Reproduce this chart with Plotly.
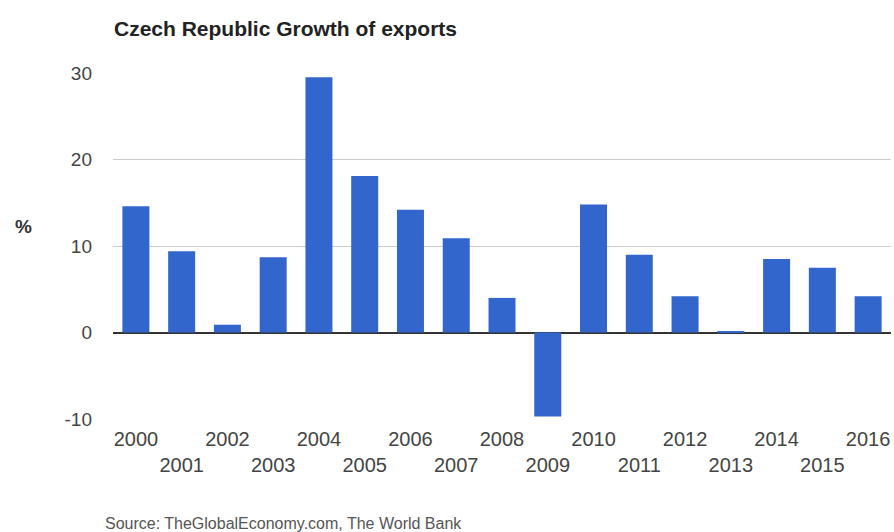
import plotly.graph_objects as go

years = [str(y) for y in range(2000, 2017)]
growth = [14.6, 9.4, 0.9, 8.7, 29.5, 18.1, 14.2, 10.9, 4.0, -9.7,
          14.8, 9.0, 4.2, 0.1, 8.5, 7.5, 4.2]
tick_labels = [y if i % 2 == 0 else "<br>" + y for i, y in enumerate(years)]
y_ticks = [-10, 0, 10, 20, 30]
y_tick_labels = ["-10", "0", "10", "20", "30"]

W, H = 894, 532
L, R, T, B = 113, 3, 73, 113
pw, ph = W - L - R, H - T - B

def px_x(x):
    return (x - L) / pw

def px_y(y):
    return (H - B - y) / ph

fig = go.Figure(go.Bar(x=years, y=growth, marker=dict(color="#3366cc", line=dict(width=0)),
                       hoverinfo="x+y"))

fig.update_layout(
    width=W, height=H,
    margin=dict(l=L, r=R, t=T, b=B, autoexpand=False),
    paper_bgcolor="white", plot_bgcolor="white",
    bargap=0.41, showlegend=False,
    font=dict(family="Liberation Sans, Arial, sans-serif", color="#444444"),
)
fig.update_xaxes(
    type="category", tickmode="array", tickvals=years, ticktext=tick_labels,
    tickangle=0, tickfont=dict(size=20, color="#444444"), showgrid=False, ticks="",
    showline=False, zeroline=False, ticklabelstandoff=6,
)
fig.update_yaxes(
    range=[-10, 30], tickmode="array", tickvals=y_ticks, ticktext=y_tick_labels,
    tickfont=dict(size=19, color="#444444"), showgrid=True, gridcolor="#cccccc",
    gridwidth=1, zeroline=True, zerolinecolor="#333333", zerolinewidth=2,
    ticks="", showline=False, ticklabelstandoff=20,
)

fig.add_annotation(text="<b>Czech Republic Growth of exports</b>", xref="paper", yref="paper",
                   x=px_x(112), y=px_y(28), xanchor="left", yanchor="middle", showarrow=False,
                   font=dict(size=21, color="#222222"))
fig.add_annotation(text="<b>%</b>", xref="paper", yref="paper",
                   x=px_x(23), y=px_y(226), xanchor="center", yanchor="middle", showarrow=False,
                   font=dict(size=19, color="#333333"))
fig.add_annotation(text="Source: TheGlobalEconomy.com, The World Bank", xref="paper", yref="paper",
                   x=px_x(103), y=px_y(523), xanchor="left", yanchor="middle", showarrow=False,
                   font=dict(size=16, color="#555555"))

fig.write_html("out.html")
